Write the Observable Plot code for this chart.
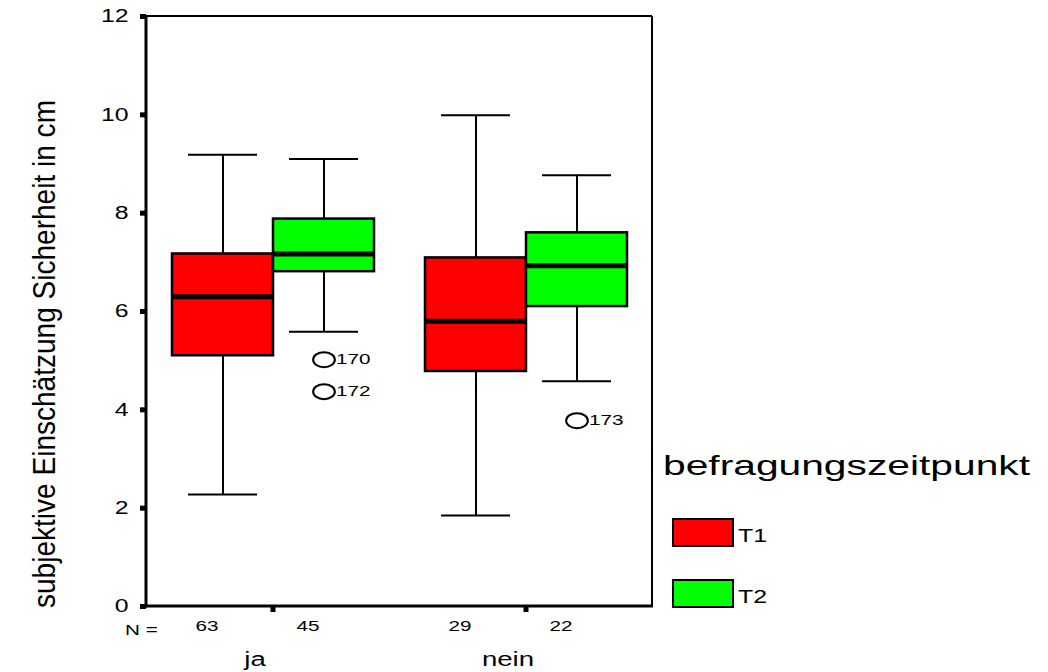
<!DOCTYPE html>
<html>
<head>
<meta charset="utf-8">
<script src="https://cdn.jsdelivr.net/npm/d3@7"></script>
<script src="https://cdn.jsdelivr.net/npm/@observablehq/plot@0.6"></script>
<style>
  html, body { margin: 0; padding: 0; background: #fff; }
  #chart { width: 1048px; height: 672px; }
</style>
</head>
<body>
<div id="chart"></div>
<script>
// ---- data ----
const groups = ["ja", "nein"];
const times = ["T1", "T2"];
const timeColors = ["#ff0000", "#00ff00"];
const boxGroups = ["ja", "ja", "nein", "nein"];
const boxTimes = ["T1", "T2", "T1", "T2"];
const lows = [2.28, 5.59, 1.85, 4.58];
const q1s = [5.10, 6.81, 4.78, 6.10];
const medians = [6.30, 7.17, 5.80, 6.93];
const q3s = [7.17, 7.88, 7.09, 7.60];
const highs = [9.19, 9.10, 9.99, 8.77];
const ns = [63, 45, 29, 22];
const outlierGroups = ["ja", "ja", "nein"];
const outlierTimes = ["T2", "T2", "T2"];
const outlierValues = [5.02, 4.37, 3.78];
const outlierIds = ["170", "172", "173"];
const yTicks = [0, 2, 4, 6, 8, 10, 12];
const yLabel = "subjektive Einschätzung Sicherheit in cm";
const legendTitle = "befragungszeitpunkt";

// ---- tables ----
const boxes = boxGroups.map((g, i) => ({
  group: g, time: boxTimes[i], lo: lows[i], q1: q1s[i], med: medians[i], q3: q3s[i], hi: highs[i], n: ns[i]
}));
const outliers = outlierGroups.map((g, i) => ({
  group: g, time: outlierTimes[i], value: outlierValues[i], id: outlierIds[i]
}));

// ellipse symbol (outlier marker)
const ellipse = {
  draw(ctx, size) {
    const r = Math.sqrt(size / Math.PI), rx = r * 1.45, ry = r, k = 0.5523;
    ctx.moveTo(rx, 0);
    ctx.bezierCurveTo(rx, ry * k, rx * k, ry, 0, ry);
    ctx.bezierCurveTo(-rx * k, ry, -rx, ry * k, -rx, 0);
    ctx.bezierCurveTo(-rx, -ry * k, -rx * k, -ry, 0, -ry);
    ctx.bezierCurveTo(rx * k, -ry, rx, -ry * k, rx, 0);
    ctx.closePath();
  }
};

const W = 1048, H = 672, mL = 146, mR = 396, mT = 16, mB = 66;
const FONT = "'Liberation Sans', Arial, Helvetica, sans-serif";

const chart = Plot.plot({
  width: W, height: H,
  marginLeft: mL, marginRight: mR, marginTop: mT, marginBottom: mB,
  style: { fontFamily: FONT, fontSize: "18px", color: "#000", background: "#fff" },
  fx: { domain: groups, padding: 0, paddingInner: 0, paddingOuter: 0, axis: "bottom", label: null, tickSize: 6, tickPadding: 39 },
  x: { domain: times, paddingInner: 0, paddingOuter: 0.246, axis: null },
  y: { domain: [0, 12], ticks: yTicks, tickSize: 6, tickPadding: 12, label: null },
  color: { domain: times, range: timeColors },
  marks: [
    // whiskers
    Plot.ruleX(boxes, { fx: "group", x: "time", y1: "lo", y2: "q1", stroke: "#000", strokeWidth: 2 }),
    Plot.ruleX(boxes, { fx: "group", x: "time", y1: "q3", y2: "hi", stroke: "#000", strokeWidth: 2 }),
    Plot.tickY(boxes, { fx: "group", x: "time", y: "lo", stroke: "#000", strokeWidth: 2, insetLeft: 16, insetRight: 16 }),
    Plot.tickY(boxes, { fx: "group", x: "time", y: "hi", stroke: "#000", strokeWidth: 2, insetLeft: 16, insetRight: 16 }),
    // boxes
    Plot.barY(boxes, { fx: "group", x: "time", y1: "q1", y2: "q3", fill: "time", stroke: "#000", strokeWidth: 2.5 }),
    // medians
    Plot.tickY(boxes, { fx: "group", x: "time", y: "med", stroke: "#000", strokeWidth: 5 }),
    // outliers
    Plot.dot(outliers, { fx: "group", x: "time", y: "value", symbol: ellipse, r: 7.5, stroke: "#000", strokeWidth: 2, fill: "none" }),
    Plot.text(outliers, { fx: "group", x: "time", y: "value", text: "id", dx: 12, textAnchor: "start", fontSize: 15, fill: "#000" }),
    // N labels
    Plot.text(boxes, { fx: "group", x: "time", text: d => String(d.n), frameAnchor: "bottom", dy: 24, dx: -16, fontSize: 15, fill: "#000" })
  ]
});

document.getElementById("chart").appendChild(chart);

const svg = d3.select(chart);
const xR = W - mR, yB = H - mB;

// thicker square ticks on axes
svg.selectAll('[aria-label^="y-axis"] line, [aria-label^="y-axis"] path, [aria-label^="fx-axis"] line, [aria-label^="fx-axis"] path')
  .attr("stroke", "#000").style("stroke-width", "5px");
svg.selectAll('[aria-label^="fx-axis"] text').style("font-size", "20px").attr("dx", -18);

// frame
const frame = svg.append("g").attr("stroke", "#000").attr("fill", "none");
frame.append("line").attr("x1", mL).attr("x2", xR).attr("y1", mT).attr("y2", mT).attr("stroke-width", 2);
frame.append("line").attr("x1", xR).attr("x2", xR).attr("y1", mT).attr("y2", yB).attr("stroke-width", 2);
frame.append("line").attr("x1", mL).attr("x2", mL).attr("y1", mT - 1).attr("y2", yB + 1.5).attr("stroke-width", 3);
frame.append("line").attr("x1", mL - 1.5).attr("x2", xR + 1).attr("y1", yB).attr("y2", yB).attr("stroke-width", 3);

// "N =" label
svg.append("text").attr("x", 125).attr("y", yB + 24).attr("dy", "0.32em").attr("text-anchor", "start")
  .style("font-family", FONT).style("font-size", "15px").attr("fill", "#000").text("N =");

// legend
const lg = svg.append("g").style("font-family", FONT).attr("fill", "#000").attr("text-anchor", "start");
lg.append("text").attr("x", 663).attr("y", 475).style("font-size", "28px")
  .attr("textLength", 367).attr("lengthAdjust", "spacingAndGlyphs").text(legendTitle);
times.forEach((t, i) => {
  const y0 = 519 + i * 61;
  lg.append("rect").attr("x", 673).attr("y", y0).attr("width", 60).attr("height", 27)
    .attr("fill", timeColors[i]).attr("stroke", "#000").attr("stroke-width", 2);
  lg.append("text").attr("x", 738).attr("y", y0 + 23).style("font-size", "18px").text(t);
});

// stretch horizontal text like the original rendering
svg.selectAll("text").each(function () {
  if (this.getAttribute("textLength")) return;
  const len = this.getComputedTextLength();
  if (len > 0) {
    this.setAttribute("textLength", (len * 1.38).toFixed(1));
    this.setAttribute("lengthAdjust", "spacingAndGlyphs");
  }
});

// y-axis title (rotated)
svg.append("text")
  .attr("transform", `translate(55,608) rotate(-90)`)
  .attr("text-anchor", "start")
  .style("font-family", FONT).style("font-size", "31px").attr("fill", "#000")
  .attr("textLength", 508).attr("lengthAdjust", "spacingAndGlyphs")
  .text(yLabel);
</script>
</body>
</html>
